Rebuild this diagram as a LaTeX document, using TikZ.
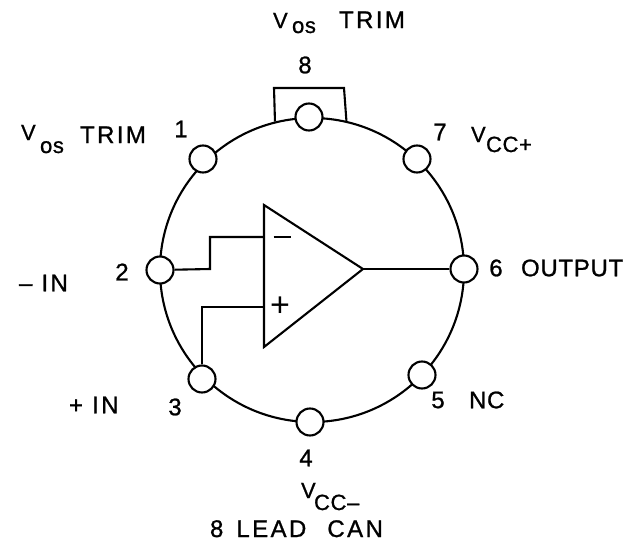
\documentclass[tikz,border=0pt]{standalone}
\usepackage{fontspec}
\setmainfont[LetterSpace=3,FakeBold=1]{Liberation Sans}
\newfontfamily\widefont[LetterSpace=10,FakeBold=1]{Liberation Sans}
\newfontfamily\plainfont{Liberation Sans}

\begin{document}
\begin{tikzpicture}[
		x=1pt,
		y=-1pt,
		line width=2.1pt,
		can/.style={
			circle,
			draw,
			inner sep=0pt,
			minimum size=304pt,
		},
		lead/.style={
			circle,
			draw,
			fill=white,
			inner sep=0pt,
			minimum size=27pt,
		},
		tag/.style={
			inner sep=0pt,
			font=\fontsize{24}{26}\selectfont,
		},
		widetag/.style={
			inner sep=0pt,
			font=\fontsize{24}{26}\widefont,
		},
		subtag/.style={
			inner sep=0pt,
			anchor=base west,
			font=\fontsize{22}{24}\selectfont,
		},
	]
		\useasboundingbox (0,0) rectangle (625,544);

		\node[can] (body) at (312,270) {};
		\coordinate (strapleft) at (274,88);
		\coordinate (strapright) at (344,88);
		\draw (body.104.6) -- (strapleft) -- (strapright) -- (body.77.5);

		\node[lead] (lead1) at (203,159) {};
		\node[lead] (lead2) at (160,270) {};
		\node[lead] (lead3) at (202,379) {};
		\node[lead] (lead4) at (310,422) {};
		\node[lead] (lead5) at (422,375) {};
		\node[lead] (lead6) at (464,269) {};
		\node[lead] (lead7) at (417,159) {};
		\node[lead] (lead8) at (309,117) {};

		\coordinate (top) at (264,205);
		\coordinate (bottom) at (264,347);
		\coordinate (apex) at (363,269);
		\coordinate (inminus) at (264,237);
		\coordinate (inplus) at (264,307);
		\draw[line join=miter] (top) -- (apex) -- (bottom) -- cycle;

		\draw (apex) -- (lead6);
		\draw (lead2) -- (210,269) -- (210,237) -- (inminus);
		\draw (lead3) -- (lead3 |- inplus) -- (inplus);

		\node[inner sep=0pt] (minus) at (282,237) {\rule{17pt}{1.3pt}};
		\node[inner sep=0pt,font=\fontsize{34}{36}\plainfont] (plus) at (280,307) {+};

		\node[tag] (num1) at (181,129) {1};
		\node[tag] (num2) at (122,272) {2};
		\node[tag] (num3) at (175,407) {3};
		\node[tag] (num4) at (306,458) {4};
		\node[tag] (num5) at (438,400) {5};
		\node[tag] (num6) at (496,268) {6};
		\node[tag] (num7) at (440,132) {7};
		\node[tag] (num8) at (305,65) {8};

		\node[subtag] (vtop) at (272,28) {V};
		\node[subtag] (ostop) at (291,33) {os};
		\node[widetag,anchor=base west] (trimtop) at (338,28) {TRIM};

		\node[subtag] (vleft) at (20,140) {V};
		\node[subtag] (osleft) at (39,153) {os};
		\node[widetag,anchor=base west] (trimleft) at (79,143) {TRIM};

		\node[subtag] (vplus) at (470,142) {V};
		\node[subtag] (ccplus) at (485,152) {CC+};

		\node[subtag] (vminus) at (300,498) {V};
		\node[subtag] (ccminus) at (313,510) {CC–};

		\node[tag,anchor=west] (output) at (520,268) {OUTPUT};
		\node[tag,anchor=west] (nc) at (468,400) {NC};
		\node[widetag,anchor=west] (inneg) at (18,283) {– IN};
		\node[widetag,anchor=west] (inpos) at (68,405) {+ IN};
		\node[widetag,anchor=base west] (title) at (209,537) {8\hspace{4pt} LEAD\hspace{12pt} CAN};
	\end{tikzpicture}
\end{document}
